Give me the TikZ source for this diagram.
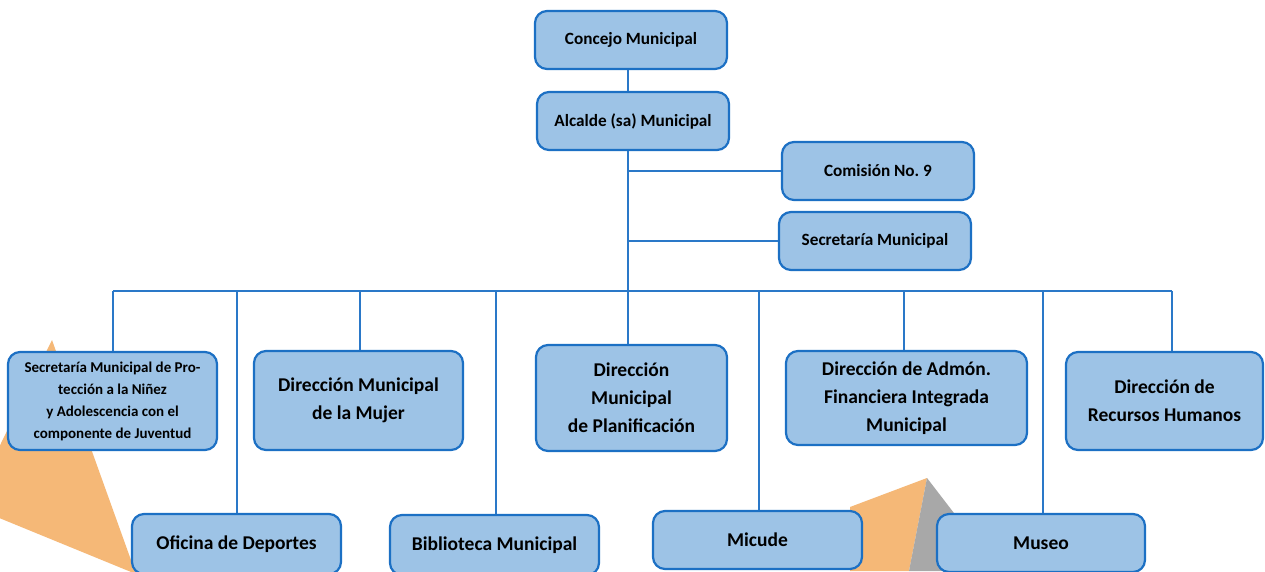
\documentclass[tikz,border=0pt]{standalone}
\usepackage{fontspec}
\setmainfont{Carlito}
\frenchspacing
\definecolor{boxfill}{HTML}{9DC3E6}
\definecolor{boxdraw}{HTML}{1C70C4}
\definecolor{linec}{HTML}{2A78C8}
\definecolor{orng}{HTML}{F5B877}
\definecolor{gry}{HTML}{A8A8A8}
\tikzset{
  orgbox/.style={draw=boxdraw, fill=boxfill, line width=2.2pt, rounded corners=12pt,
    align=center, inner sep=2pt, font=\bfseries},
  conn/.style={draw=linec, line width=2pt},
  fsmall/.style={font=\fontsize{15}{22}\selectfont\bfseries},
  fmed/.style={font=\fontsize{17.2}{20}\selectfont\bfseries},
  flarge/.style={font=\fontsize{19.5}{28}\selectfont\bfseries},
}
\begin{document}
\begin{tikzpicture}[x=1pt,y=-1pt]
\clip (0,0) rectangle (1265,571);
\fill[white] (0,0) rectangle (1265,571);
% background shapes
\fill[orng] (52,340) -- (-30,506) -- (136,574) -- cycle;
\fill[orng] (927,478) -- (850,507) -- (850,571) -- (909,571) -- cycle;
\fill[gry] (927,478) -- (957,517) -- (957,571) -- (909,571) -- cycle;
% top boxes
\node[orgbox, fmed, minimum width=192pt, minimum height=58pt] (concejo) at (631,40) {Concejo Municipal};
\node[orgbox, fmed, minimum width=192pt, minimum height=58pt] (alcalde) at (633,121) {Alcalde (sa) Municipal};
\node[orgbox, fmed, minimum width=192pt, minimum height=58pt] (comision) at (878,171) {Comisión No.\ 9};
\node[orgbox, fmed, minimum width=192pt, minimum height=58pt] (secmun) at (875,241) {Secretaría Municipal};
% middle row
\node[orgbox, fsmall, minimum width=209pt, minimum height=98pt] (secprot) at (112.5,401) {Secretaría Municipal de Pro-\\tección a la Niñez\\y Adolescencia con el\\componente de Juventud};
\node[orgbox, flarge, minimum width=209pt, minimum height=99pt] (mujer) at (358.5,400.5) {Dirección Municipal\\de la Mujer};
\node[orgbox, flarge, minimum width=191pt, minimum height=106pt] (planif) at (631.5,398) {Dirección\\Municipal\\de Planificación};
\node[orgbox, flarge, minimum width=241pt, minimum height=94pt] (admon) at (906.5,398) {Dirección de Admón.\\Financiera Integrada\\Municipal};
\node[orgbox, flarge, minimum width=197pt, minimum height=98pt] (rrhh) at (1164.5,401) {Dirección de\\Recursos Humanos};
% bottom row
\node[orgbox, flarge, minimum width=209pt, minimum height=60pt] (deportes) at (236.5,544) {Oficina de Deportes};
\node[orgbox, flarge, minimum width=209pt, minimum height=60pt] (biblio) at (494.5,545) {Biblioteca Municipal};
\node[orgbox, flarge, minimum width=209pt, minimum height=58pt] (micude) at (757.5,540) {Micude};
\node[orgbox, flarge, minimum width=208pt, minimum height=58pt] (museo) at (1041,543) {Museo};
% bus coordinates
\coordinate (b1) at (113,291);
\coordinate (b2) at (237,291);
\coordinate (b3) at (360,291);
\coordinate (b4) at (496,291);
\coordinate (b6) at (759,291);
\coordinate (b7) at (904,291);
\coordinate (b8) at (1043,291);
\coordinate (b9) at (1172,291);
\coordinate (tk) at (628,0);
% connectors
\draw[conn] (concejo.south -| tk) -- (alcalde.north -| tk);
\draw[conn] (alcalde.south -| tk) -- (planif.north -| tk);
\draw[conn] (comision.west -| tk) -- (comision.west);
\draw[conn] (secmun.west -| tk) -- (secmun.west);
\draw[conn] (b1) -- (b9);
\draw[conn] (b1) -- (b1 |- secprot.north);
\draw[conn] (b2) -- (b2 |- deportes.north);
\draw[conn] (b3) -- (b3 |- mujer.north);
\draw[conn] (b4) -- (b4 |- biblio.north);
\draw[conn] (b6) -- (b6 |- micude.north);
\draw[conn] (b7) -- (b7 |- admon.north);
\draw[conn] (b8) -- (b8 |- museo.north);
\draw[conn] (b9) -- (b9 |- rrhh.north);
\end{tikzpicture}
\end{document}
